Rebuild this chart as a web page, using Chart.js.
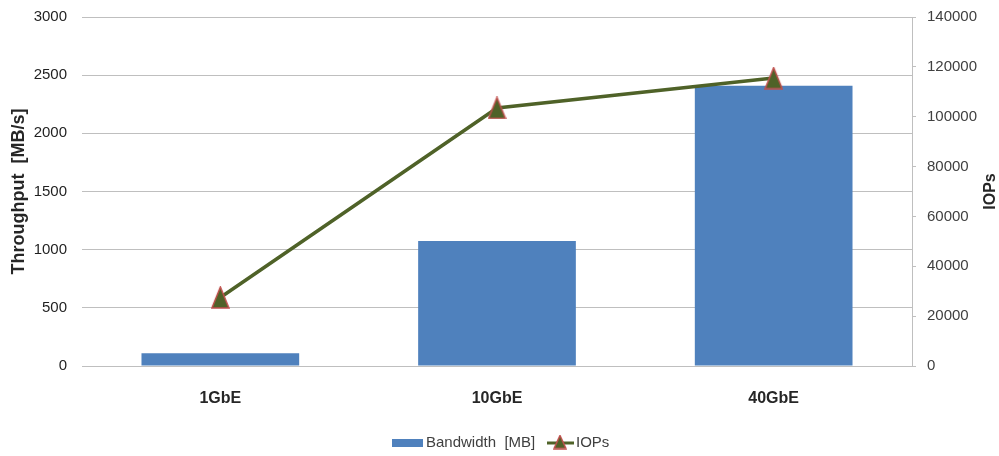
<!DOCTYPE html>
<html>
<head>
<meta charset="utf-8">
<script src="https://cdn.jsdelivr.net/npm/chart.js@4/dist/chart.umd.min.js"></script>
<style>
  html, body { margin: 0; padding: 0; background: #fff; }
  #wrap { width: 999px; height: 456px; }
</style>
</head>
<body>
<div id="wrap"><canvas id="c" width="999" height="456"></canvas></div>
<script>
// Network interface speeds and measured results
const categories = ['1GbE', '10GbE', '40GbE'];
const bandwidthMB = [110, 1075, 2410];
const iops = [27500, 103500, 115500];
const leftTicks = [0, 500, 1000, 1500, 2000, 2500, 3000];
const rightTicks = [0, 20000, 40000, 60000, 80000, 100000, 120000, 140000];

const FONT = '"Liberation Sans", Arial, sans-serif';
const BAR_BLUE = '#4F81BD';
const LINE_GREEN = '#4F6228';
const MARKER_EDGE = '#C0504D';

// Triangle marker image (slightly taller than wide)
function makeTriangle(w, h) {
  const c = document.createElement('canvas');
  c.width = w + 2;
  c.height = h + 2;
  const g = c.getContext('2d');
  g.beginPath();
  g.moveTo(1 + w / 2, 1);
  g.lineTo(1 + w, 1 + h);
  g.lineTo(1, 1 + h);
  g.closePath();
  g.fillStyle = LINE_GREEN;
  g.fill();
  g.strokeStyle = MARKER_EDGE;
  g.lineWidth = 1.5;
  g.stroke();
  return c;
}
const triMarker = makeTriangle(17, 21);
const triLegend = makeTriangle(12, 13);

// Vertical axes keep no extra room for their end labels
function noOverhang(s) {
  s.paddingTop = 0;
  s.paddingBottom = 0;
}

// Legend under the x axis, plus the right-hand axis title read bottom-to-top
const extras = {
  id: 'extras',
  afterDraw(chart) {
    const ctx = chart.ctx;
    const y = 443;
    ctx.save();
    ctx.font = '15px ' + FONT;
    ctx.textBaseline = 'middle';
    ctx.textAlign = 'left';
    // bar entry
    ctx.fillStyle = BAR_BLUE;
    ctx.fillRect(392, y - 4, 31, 8);
    ctx.fillStyle = '#404040';
    ctx.fillText('Bandwidth  [MB]', 426, y);
    // line entry
    ctx.strokeStyle = LINE_GREEN;
    ctx.lineWidth = 3;
    ctx.beginPath();
    ctx.moveTo(547, y);
    ctx.lineTo(574, y);
    ctx.stroke();
    ctx.drawImage(triLegend, 560 - triLegend.width / 2, y - triLegend.height / 2 - 1);
    ctx.fillStyle = '#404040';
    ctx.fillText('IOPs', 576, y);

    // right axis title
    ctx.translate(991, chart.chartArea.top + (chart.chartArea.bottom - chart.chartArea.top) / 2);
    ctx.rotate(-Math.PI / 2);
    ctx.textAlign = 'center';
    ctx.font = 'bold 16px ' + FONT;
    ctx.fillStyle = '#262626';
    ctx.fillText('IOPs', 0, 0);
    ctx.restore();
  }
};

new Chart(document.getElementById('c'), {
  data: {
    labels: categories,
    datasets: [
      {
        type: 'line',
        label: 'IOPs',
        data: iops,
        yAxisID: 'yR',
        borderColor: LINE_GREEN,
        borderWidth: 3.5,
        backgroundColor: LINE_GREEN,
        pointStyle: triMarker,
        pointRadius: 9,
        tension: 0,
        order: 0
      },
      {
        type: 'bar',
        label: 'Bandwidth  [MB]',
        data: bandwidthMB,
        yAxisID: 'yL',
        backgroundColor: BAR_BLUE,
        borderWidth: 0,
        categoryPercentage: 1.0,
        barPercentage: 0.57,
        order: 1
      }
    ]
  },
  options: {
    responsive: false,
    animation: false,
    devicePixelRatio: 1,
    layout: { padding: { top: 17, left: 0, right: 0, bottom: 0 } },
    plugins: {
      legend: { display: false },
      tooltip: { enabled: false }
    },
    scales: {
      x: {
        grid: { display: false, drawTicks: false },
        border: { display: true, color: '#BFBFBF', width: 1 },
        ticks: {
          padding: 23,
          color: '#262626',
          font: { family: FONT, size: 16, weight: 'bold' }
        },
        afterFit(s) { s.height = 90; s.paddingLeft = 0; s.paddingRight = 0; }
      },
      yL: {
        position: 'left',
        min: 0,
        max: 3000,
        afterBuildTicks(s) { s.ticks = leftTicks.map(v => ({ value: v })); },
        grid: { color: '#BFBFBF', lineWidth: 1, drawTicks: false },
        border: { display: false },
        ticks: {
          padding: 15,
          color: '#1F1F1F',
          font: { family: FONT, size: 15 },
          callback: v => String(v)
        },
        title: {
          display: true,
          text: 'Throughput  [MB/s]',
          color: '#262626',
          font: { family: FONT, size: 18, weight: 'bold' },
          padding: { top: 8, bottom: 0 }
        },
        afterFit(s) { s.width = 82; noOverhang(s); }
      },
      yR: {
        position: 'right',
        min: 0,
        max: 140000,
        afterBuildTicks(s) { s.ticks = rightTicks.map(v => ({ value: v })); },
        grid: { drawOnChartArea: false, drawTicks: true, tickLength: 4, color: '#BFBFBF' },
        border: { display: true, color: '#BFBFBF', width: 1 },
        ticks: {
          padding: 11,
          color: '#404040',
          font: { family: FONT, size: 15 },
          callback: v => String(v)
        },
        afterFit(s) { s.width = 87; noOverhang(s); }
      }
    }
  },
  plugins: [extras]
});
</script>
</body>
</html>
